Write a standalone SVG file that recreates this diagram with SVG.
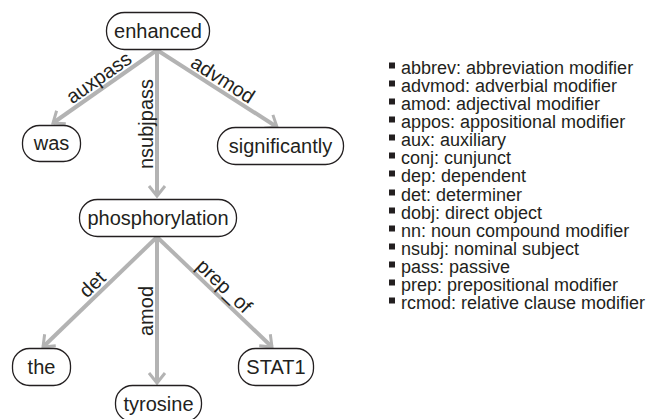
<svg xmlns="http://www.w3.org/2000/svg" width="651" height="419" viewBox="0 0 651 419">
<style>
.node rect{fill:#fff;stroke:#231f20;stroke-width:1.3}
.node text{font-family:"Liberation Sans",Arial,sans-serif;font-size:20px;fill:#231f20;text-anchor:middle}
.edge{stroke:#b3b3b3;stroke-width:4;fill:none}
.lbl{font-family:"Liberation Sans",Arial,sans-serif;font-size:20px;fill:#231f20;text-anchor:middle}
.legend text{font-family:"Liberation Sans",Arial,sans-serif;font-size:18px;fill:#231f20}
.legend rect{fill:#231f20}
</style>
<defs>
<marker id="arr" markerUnits="userSpaceOnUse" markerWidth="30" markerHeight="30" viewBox="-15 -15 30 30" refX="0" refY="0" orient="auto">
<path d="M-10,-8 L0,0 L-10,8" fill="none" stroke="#b3b3b3" stroke-width="3"/>
</marker>
</defs>
<rect width="651" height="419" fill="#fff"/>
<g id="connectors">
<line class="edge" x1="157" y1="50" x2="53" y2="123" marker-end="url(#arr)"/>
<line class="edge" x1="157" y1="50" x2="157" y2="196" marker-end="url(#arr)"/>
<line class="edge" x1="157" y1="50" x2="277" y2="127" marker-end="url(#arr)"/>
<line class="edge" x1="157" y1="237" x2="43" y2="347" marker-end="url(#arr)"/>
<line class="edge" x1="157" y1="237" x2="157" y2="383" marker-end="url(#arr)"/>
<line class="edge" x1="157" y1="237" x2="272" y2="347" marker-end="url(#arr)"/>
<text class="lbl" transform="translate(102.7,83.2) rotate(-35.1)">auxpass</text>
<text class="lbl" transform="translate(153,124) rotate(-90)">nsubjpass</text>
<text class="lbl" transform="translate(219.2,85.1) rotate(32.7)">advmod</text>
<text class="lbl" transform="translate(97,289) rotate(-44)">det</text>
<text class="lbl" transform="translate(153,311) rotate(-90)">amod</text>
<text class="lbl" transform="translate(219.5,291) rotate(43.7)">prep_of</text>
</g>
<g id="n-enhanced" class="node"><rect x="106.5" y="12.5" width="103" height="37" rx="18"/><text x="158" y="38">enhanced</text></g>
<g id="n-was" class="node"><rect x="22.5" y="125.5" width="58" height="36" rx="17"/><text x="51.5" y="150">was</text></g>
<g id="n-significantly" class="node"><rect x="217.5" y="127.5" width="126" height="37" rx="18"/><text x="280.5" y="153">significantly</text></g>
<g id="n-phosphorylation" class="node"><rect x="79.5" y="199.5" width="157" height="37" rx="18"/><text x="158" y="225">phosphorylation</text></g>
<g id="n-the" class="node"><rect x="12.5" y="348.5" width="58" height="37" rx="17"/><text x="41.5" y="374">the</text></g>
<g id="n-tyrosine" class="node"><rect x="115.5" y="385.5" width="86" height="36" rx="17"/><text x="158.5" y="411">tyrosine</text></g>
<g id="n-STAT1" class="node"><rect x="238.5" y="348.5" width="75" height="37" rx="17"/><text x="276" y="374">STAT1</text></g>
<g id="legend" class="legend">
<rect x="389" y="62.5" width="6" height="6"/><text x="401" y="74">abbrev: abbreviation modifier</text>
<rect x="389" y="80.5" width="6" height="6"/><text x="401" y="92">advmod: adverbial modifier</text>
<rect x="389" y="98.5" width="6" height="6"/><text x="401" y="110">amod: adjectival modifier</text>
<rect x="389" y="116.5" width="6" height="6"/><text x="401" y="128">appos: appositional modifier</text>
<rect x="389" y="134.5" width="6" height="6"/><text x="401" y="146">aux: auxiliary</text>
<rect x="389" y="152.5" width="6" height="6"/><text x="401" y="164">conj: cunjunct</text>
<rect x="389" y="170.5" width="6" height="6"/><text x="401" y="182">dep: dependent</text>
<rect x="389" y="189.5" width="6" height="6"/><text x="401" y="201">det: determiner</text>
<rect x="389" y="207.5" width="6" height="6"/><text x="401" y="219">dobj: direct object</text>
<rect x="389" y="225.5" width="6" height="6"/><text x="401" y="237">nn: noun compound modifier</text>
<rect x="389" y="243.5" width="6" height="6"/><text x="401" y="255">nsubj: nominal subject</text>
<rect x="389" y="261.5" width="6" height="6"/><text x="401" y="273">pass: passive</text>
<rect x="389" y="279.5" width="6" height="6"/><text x="401" y="291">prep: prepositional modifier</text>
<rect x="389" y="297.5" width="6" height="6"/><text x="401" y="309">rcmod: relative clause modifier</text>
</g>
</svg>
